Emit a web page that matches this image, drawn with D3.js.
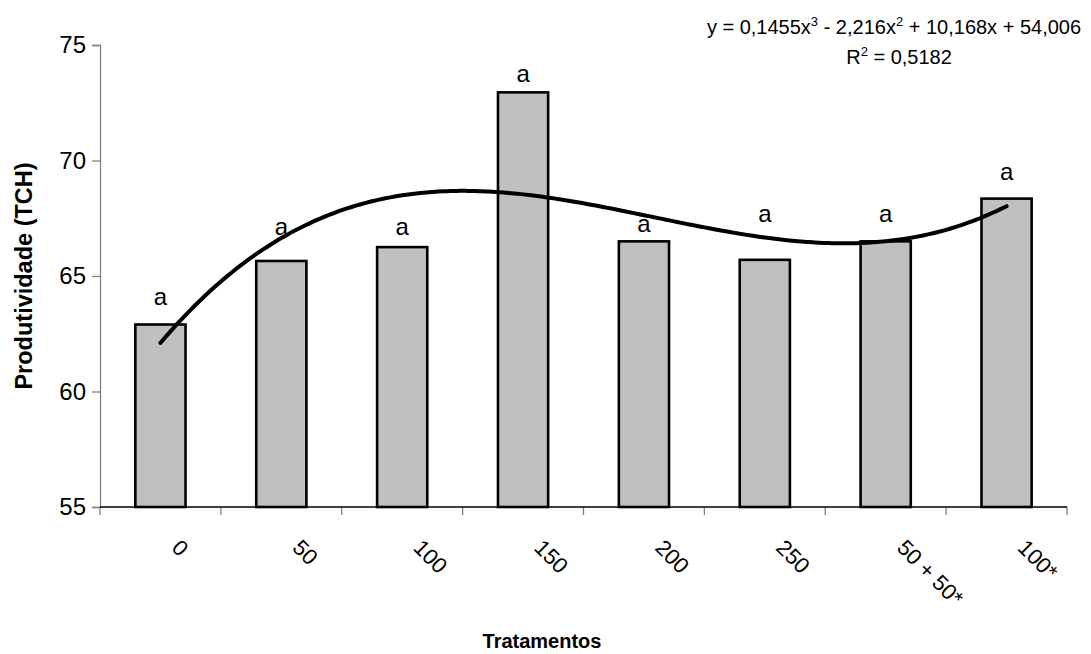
<!DOCTYPE html>
<html>
<head>
<meta charset="utf-8">
<script src="https://cdn.jsdelivr.net/npm/d3@7"></script>
<style>
  html, body { margin: 0; padding: 0; background: #fff; }
  svg { display: block; font-family: Arial, "Liberation Sans", sans-serif; }
</style>
</head>
<body>
<svg id="chart" width="1091" height="654"></svg>
<script>
// Treatments and mean productivity (TCH)
const categories = ["0", "50", "100", "150", "200", "250", "50 + 50*", "100*"];
const productivity = [62.9, 65.65, 66.25, 72.95, 66.5, 65.7, 66.5, 68.35];
// Tukey grouping letters and the height where each one sits
const letters = ["a", "a", "a", "a", "a", "a", "a", "a"];
const letterLevels = [64.05, 67.1, 67.1, 73.7, 67.2, 67.65, 67.65, 69.45];
// Y axis ticks
const yTicks = [55, 60, 65, 70, 75];
// Cubic trend: y = a x^3 + b x^2 + c x + d, x = treatment order 1..8
const trendCoefs = [0.1455, -2.216, 10.168, 54.006];
const trendR2 = "0,5182";

const svg = d3.select("#chart");
const plotLeft = 100, plotRight = 1067, plotTop = 45, plotBottom = 507;

const x = d3.scaleBand()
  .domain(categories)
  .range([plotLeft, plotRight])
  .paddingInner(0.585)
  .paddingOuter(0.2925);

const y = d3.scaleLinear().domain([55, 75]).range([plotBottom, plotTop]);

// Position of trend x (1..8) on screen: centre of each band
const xt = d3.scaleLinear()
  .domain([1, categories.length])
  .range([x(categories[0]) + x.bandwidth() / 2,
          x(categories[categories.length - 1]) + x.bandwidth() / 2]);

// Bars
svg.append("g").selectAll("rect")
  .data(categories)
  .join("rect")
  .attr("x", d => x(d))
  .attr("y", (d, i) => y(productivity[i]))
  .attr("width", x.bandwidth())
  .attr("height", (d, i) => y(55) - y(productivity[i]))
  .attr("fill", "#c0c0c0")
  .attr("stroke", "#000")
  .attr("stroke-width", 2.6);

// Y axis
const yAxis = svg.append("g")
  .attr("transform", `translate(${plotLeft},0)`)
  .call(d3.axisLeft(y).tickValues(yTicks).tickSize(8).tickPadding(6).tickFormat(d3.format("d")));
yAxis.select(".domain").attr("stroke", "#808080").attr("stroke-width", 1.3);
yAxis.selectAll(".tick line").attr("stroke", "#808080").attr("stroke-width", 1.3);
yAxis.selectAll(".tick text")
  .attr("font-size", 24)
  .attr("font-family", "Arial, 'Liberation Sans', sans-serif")
  .attr("fill", "#000");

// X axis: category boundaries as tick marks
const boundaries = d3.range(categories.length + 1).map(i => plotLeft + i * x.step());
svg.append("g").selectAll("line")
  .data(boundaries)
  .join("line")
  .attr("x1", d => d).attr("x2", d => d)
  .attr("y1", plotBottom).attr("y2", plotBottom + 8)
  .attr("stroke", "#808080")
  .attr("stroke-width", 1.3);
svg.append("line")
  .attr("x1", plotLeft).attr("x2", plotRight)
  .attr("y1", plotBottom).attr("y2", plotBottom)
  .attr("stroke", "#000")
  .attr("stroke-width", 1.5);

// Rotated category labels
svg.append("g").selectAll("text")
  .data(categories)
  .join("text")
  .attr("transform", d => `translate(${x(d) + x.bandwidth() / 2 + 10},${549}) rotate(45)`)
  .attr("font-size", 22)
  .attr("text-anchor", "start")
  .attr("fill", "#000")
  .text(d => d);

// Trend curve from the stated coefficients
const poly = t => trendCoefs[0] * t ** 3 + trendCoefs[1] * t ** 2 + trendCoefs[2] * t + trendCoefs[3];
const tVals = d3.range(1, categories.length + 0.001, 0.05);
svg.append("path")
  .datum(tVals)
  .attr("d", d3.line().x(t => xt(t)).y(t => y(poly(t))).curve(d3.curveBasis))
  .attr("fill", "none")
  .attr("stroke", "#000")
  .attr("stroke-width", 4)
  .attr("stroke-linecap", "round");

// Grouping letters
svg.append("g").selectAll("text")
  .data(categories)
  .join("text")
  .attr("x", d => x(d) + x.bandwidth() / 2)
  .attr("y", (d, i) => y(letterLevels[i]))
  .attr("dy", "0.3em")
  .attr("text-anchor", "middle")
  .attr("font-size", 24)
  .attr("fill", "#000")
  .text((d, i) => letters[i]);

// Equation and R²
const eq = svg.append("text")
  .attr("x", 894).attr("y", 34)
  .attr("text-anchor", "middle")
  .attr("font-size", 20)
  .attr("fill", "#000");
eq.append("tspan").text("y = 0,1455x");
eq.append("tspan").attr("font-size", 13).attr("dy", -8).text("3");
eq.append("tspan").attr("dy", 8).text(" - 2,216x");
eq.append("tspan").attr("font-size", 13).attr("dy", -8).text("2");
eq.append("tspan").attr("dy", 8).text(" + 10,168x + 54,006");

const r2 = svg.append("text")
  .attr("x", 899).attr("y", 64)
  .attr("text-anchor", "middle")
  .attr("font-size", 20)
  .attr("fill", "#000");
r2.append("tspan").text("R");
r2.append("tspan").attr("font-size", 13).attr("dy", -8).text("2");
r2.append("tspan").attr("dy", 8).text(" = " + trendR2);

// Axis titles
svg.append("text")
  .attr("transform", `translate(32,${(plotTop + plotBottom) / 2}) rotate(-90)`)
  .attr("text-anchor", "middle")
  .attr("font-size", 23.5)
  .attr("font-weight", "bold")
  .attr("fill", "#000")
  .text("Produtividade (TCH)");

svg.append("text")
  .attr("x", 542).attr("y", 648)
  .attr("text-anchor", "middle")
  .attr("font-size", 20)
  .attr("font-weight", "bold")
  .attr("fill", "#000")
  .text("Tratamentos");
</script>
</body>
</html>
